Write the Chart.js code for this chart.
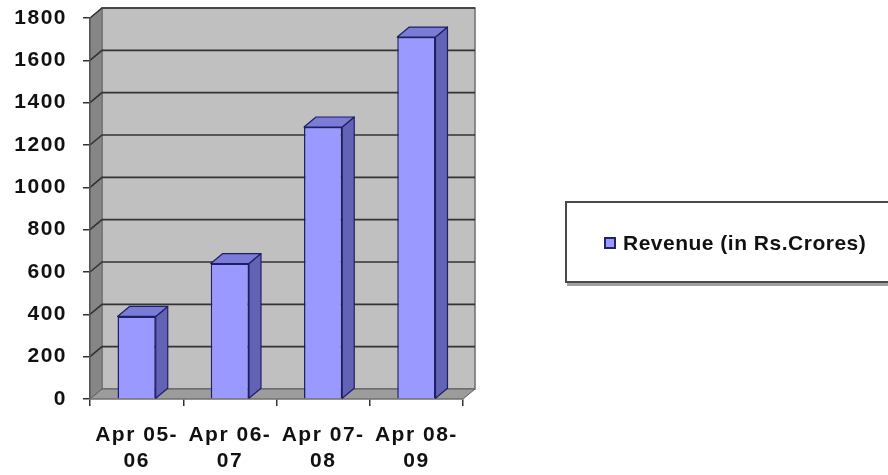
<!DOCTYPE html>
<html>
<head>
<meta charset="utf-8">
<script src="https://cdn.jsdelivr.net/npm/chart.js@4.4.1/dist/chart.umd.min.js"></script>
<style>
  html, body { margin: 0; padding: 0; background: #ffffff; }
  #wrap { position: relative; width: 888px; height: 475px; overflow: hidden; background: #ffffff; }
  #chart { position: absolute; left: 0; top: 0; }
  #legend {
    position: absolute; left: 565px; top: 201px; width: 340px; height: 78px;
    border: 2px solid #4a4a4a; background: #ffffff;
    box-shadow: 2px 3px 0 #a0a0a0;
    font: bold 21px "Liberation Sans", Arial, sans-serif; color: #111;
    letter-spacing: 0.5px;
  }
  #legend .item { position: absolute; left: 37px; top: 28px; display: flex; align-items: center; white-space: nowrap; }
  #legend .swatch { width: 8px; height: 8px; border: 2px solid #23236a; margin-right: 7px; }
</style>
</head>
<body>
<div id="wrap">
  <canvas id="chart" width="888" height="475"></canvas>
  <div id="legend"></div>
</div>
<script>
// Fiscal years (two-line tick labels) and revenue in Rs. crores
const categories = [["Apr 05-", "06"], ["Apr 06-", "07"], ["Apr 07-", "08"], ["Apr 08-", "09"]];
const revenue = [390, 640, 1285, 1710];
const seriesLabel = "Revenue (in Rs.Crores)";
const yMin = 0, yMax = 1800, yStep = 200;

// Depth offset used for the pseudo-3D walls and column sides
const DEPTH = { dx: 12, dy: -10 };

const COLORS = {
  front: "#9999ff", side: "#6363b5", top: "#7b7bd8", edge: "#1f1f66",
  wall: "#c0c0c0", sideWall: "#868686", floor: "#9c9c9c", wallEdge: "#6e6e6e",
  grid: "#333333"
};

const wallsPlugin = {
  id: "walls3d",
  beforeDraw(chart) {
    const ctx = chart.ctx;
    ctx.letterSpacing = "1.5px";
    const { left, right, top, bottom } = chart.chartArea;
    const { dx, dy } = DEPTH;
    const y = chart.scales.y;
    ctx.save();
    // back wall
    ctx.fillStyle = COLORS.wall;
    ctx.fillRect(left + dx, top + dy, right - left, bottom - top);
    ctx.strokeStyle = COLORS.wallEdge;
    ctx.lineWidth = 1.5;
    ctx.strokeRect(left + dx, top + dy, right - left, bottom - top);
    // side wall
    ctx.beginPath();
    ctx.moveTo(left, top); ctx.lineTo(left + dx, top + dy);
    ctx.lineTo(left + dx, bottom + dy); ctx.lineTo(left, bottom); ctx.closePath();
    ctx.fillStyle = COLORS.sideWall; ctx.fill();
    ctx.strokeStyle = COLORS.wallEdge; ctx.lineWidth = 1; ctx.stroke();
    // floor
    ctx.beginPath();
    ctx.moveTo(left, bottom); ctx.lineTo(left + dx, bottom + dy);
    ctx.lineTo(right + dx, bottom + dy); ctx.lineTo(right, bottom); ctx.closePath();
    ctx.fillStyle = COLORS.floor; ctx.fill();
    ctx.strokeStyle = "#5a5a5a"; ctx.lineWidth = 1; ctx.stroke();
    // gridlines: diagonal on the side wall, horizontal on the back wall
    ctx.strokeStyle = COLORS.grid;
    ctx.lineWidth = 1.6;
    y.ticks.forEach(t => {
      if (t.value <= yMin) return;
      const py = y.getPixelForValue(t.value);
      ctx.beginPath();
      ctx.moveTo(left, py);
      ctx.lineTo(left + dx, py + dy);
      ctx.lineTo(right + dx, py + dy);
      ctx.stroke();
    });
    ctx.restore();
  },
  afterDatasetsDraw(chart) {
    const ctx = chart.ctx;
    const { dx, dy } = DEPTH;
    ctx.save();
    ctx.lineJoin = "round";
    chart.getDatasetMeta(0).data.forEach(bar => {
      const p = bar.getProps(["x", "y", "base", "width"], true);
      const l = p.x - p.width / 2, r = p.x + p.width / 2;
      // right side face
      ctx.beginPath();
      ctx.moveTo(r, p.y); ctx.lineTo(r + dx, p.y + dy);
      ctx.lineTo(r + dx, p.base + dy); ctx.lineTo(r, p.base); ctx.closePath();
      ctx.fillStyle = COLORS.side; ctx.fill();
      ctx.strokeStyle = COLORS.edge; ctx.lineWidth = 1.2; ctx.stroke();
      // top face
      ctx.beginPath();
      ctx.moveTo(l, p.y); ctx.lineTo(l + dx, p.y + dy);
      ctx.lineTo(r + dx, p.y + dy); ctx.lineTo(r, p.y); ctx.closePath();
      ctx.fillStyle = COLORS.top; ctx.fill();
      ctx.stroke();
    });
    ctx.restore();
  }
};

const tickFont = { family: "'Liberation Sans', Arial, sans-serif", size: 21, weight: "bold", lineHeight: 1.2 };

const chart = new Chart(document.getElementById("chart"), {
  type: "bar",
  data: {
    labels: categories,
    datasets: [{
      label: seriesLabel,
      data: revenue,
      backgroundColor: COLORS.front,
      borderColor: COLORS.edge,
      borderWidth: 1.5,
      categoryPercentage: 1,
      barPercentage: 0.41
    }]
  },
  options: {
    responsive: false,
    animation: false,
    events: [],
    layout: { padding: { left: 0, top: 18, right: 425, bottom: 0 } },
    plugins: { legend: { display: false }, tooltip: { enabled: false } },
    scales: {
      x: {
        offset: true,
        grid: { offset: true, drawOnChartArea: false, drawTicks: true, tickLength: 7, color: "#333", lineWidth: 1.5 },
        border: { display: true, color: "#7a7a7a", width: 1.5 },
        ticks: { color: "#111", padding: 17, maxRotation: 0, autoSkip: false, font: tickFont },
        afterFit(s) { s.height = 76; s.paddingLeft = 0; s.paddingRight = 0; }
      },
      y: {
        min: yMin, max: yMax,
        grid: { drawOnChartArea: false, drawTicks: true, tickLength: 7, color: "#333", lineWidth: 1.5 },
        border: { display: true, color: "#555", width: 1.5 },
        ticks: { stepSize: yStep, color: "#111", padding: 16, font: tickFont, callback: v => String(v) },
        afterFit(s) { s.width = 90; s.paddingTop = 0; s.paddingBottom = 0; }
      }
    }
  },
  plugins: [wallsPlugin]
});

// Legend box built from the dataset
const legend = document.getElementById("legend");
chart.data.datasets.forEach(ds => {
  const item = document.createElement("div");
  item.className = "item";
  const sw = document.createElement("span");
  sw.className = "swatch";
  sw.style.background = ds.backgroundColor;
  const txt = document.createElement("span");
  txt.textContent = ds.label;
  item.appendChild(sw); item.appendChild(txt);
  legend.appendChild(item);
});
</script>
</body>
</html>
